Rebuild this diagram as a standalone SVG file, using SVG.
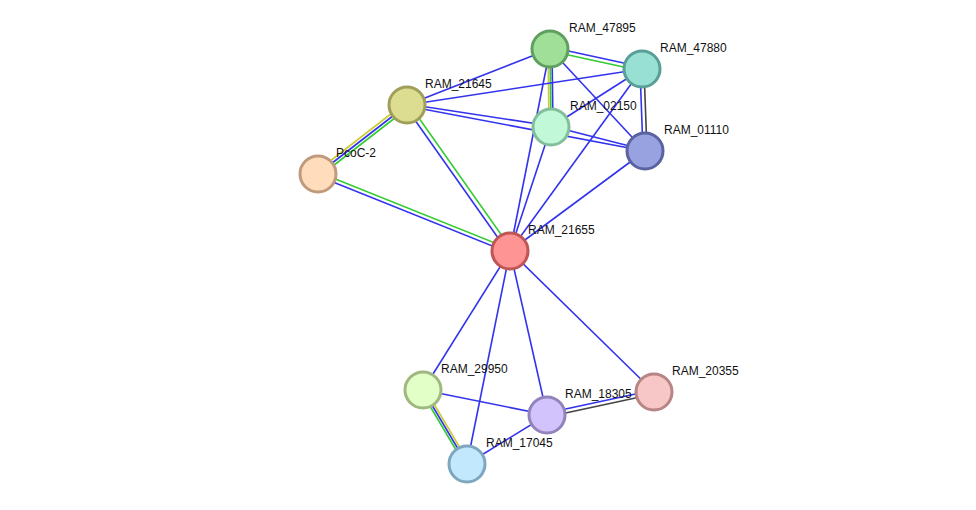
<svg xmlns="http://www.w3.org/2000/svg" width="976" height="510" viewBox="0 0 976 510">
<style>
.e{stroke-width:1.6;fill:none}
.b{stroke:#3333ee}.g{stroke:#33cc33}.y{stroke:#cccc33}.k{stroke:#444444}
circle{stroke-width:3}
text{font-family:"Liberation Sans",Arial,sans-serif;font-size:12px;fill:#111}
</style>
<rect width="976" height="510" fill="#fff"/>
<g id="connectors" class="e">
<line class="b" x1="550" y1="49" x2="407" y2="105"/>
<line class="b" x1="550" y1="47" x2="642" y2="67"/>
<line class="g" x1="550" y1="51" x2="642" y2="71"/>
<line class="y" x1="548" y1="49" x2="549" y2="127"/>
<line class="g" x1="550" y1="49" x2="551" y2="127"/>
<line class="b" x1="552" y1="49" x2="553" y2="127"/>
<line class="b" x1="550" y1="49" x2="645" y2="151"/>
<line class="b" x1="550" y1="49" x2="510" y2="251"/>
<line class="b" x1="642" y1="69" x2="407" y2="105"/>
<line class="b" x1="642" y1="69" x2="551" y2="127"/>
<line class="b" x1="640" y1="69" x2="643" y2="151"/>
<line class="k" x1="644" y1="69" x2="647" y2="151"/>
<line class="b" x1="642" y1="69" x2="510" y2="251"/>
<line class="b" x1="407" y1="104" x2="551" y2="126"/>
<line class="b" x1="407" y1="106" x2="645" y2="151"/>
<line class="y" x1="405" y1="103" x2="316" y2="172"/>
<line class="b" x1="407" y1="105" x2="318" y2="174"/>
<line class="g" x1="409" y1="107" x2="320" y2="176"/>
<line class="b" x1="405" y1="106" x2="508" y2="252"/>
<line class="g" x1="409" y1="104" x2="512" y2="250"/>
<line class="b" x1="551" y1="126" x2="645" y2="150"/>
<line class="b" x1="551" y1="127" x2="510" y2="251"/>
<line class="b" x1="645" y1="151" x2="510" y2="251"/>
<line class="g" x1="318" y1="172" x2="510" y2="249"/>
<line class="b" x1="318" y1="176" x2="510" y2="253"/>
<line class="b" x1="510" y1="251" x2="423" y2="390"/>
<line class="b" x1="510" y1="251" x2="467" y2="464"/>
<line class="b" x1="510" y1="251" x2="547" y2="415"/>
<line class="b" x1="510" y1="251" x2="654" y2="392"/>
<line class="b" x1="423" y1="390" x2="547" y2="415"/>
<line class="y" x1="425" y1="389" x2="469" y2="463"/>
<line class="b" x1="423" y1="390" x2="467" y2="464"/>
<line class="g" x1="421" y1="391" x2="465" y2="465"/>
<line class="b" x1="467" y1="464" x2="547" y2="415"/>
<line class="b" x1="547" y1="413" x2="654" y2="390"/>
<line class="k" x1="547" y1="417" x2="654" y2="394"/>
</g>
<g id="RAM_47895"><circle cx="550" cy="49" r="18" fill="#9fdf97" stroke="#5f9f5f"/><text x="569" y="32">RAM_47895</text></g>
<g id="RAM_47880"><circle cx="642" cy="69" r="18" fill="#99e0d4" stroke="#5a9f97"/><text x="660" y="52">RAM_47880</text></g>
<g id="RAM_21645"><circle cx="407" cy="105" r="18" fill="#dddd91" stroke="#9f9f5a"/><text x="425" y="88">RAM_21645</text></g>
<g id="RAM_02150"><circle cx="551" cy="127" r="18" fill="#c0f8d8" stroke="#80bf9a"/><text x="570" y="110">RAM_02150</text></g>
<g id="RAM_01110"><circle cx="645" cy="151" r="18" fill="#98a2e0" stroke="#5a62a0"/><text x="664" y="134">RAM_01110</text></g>
<g id="PcoC-2"><circle cx="318" cy="174" r="18" fill="#ffdcbc" stroke="#bf9a7c"/><text x="336" y="157">PcoC-2</text></g>
<g id="RAM_21655"><circle cx="510" cy="251" r="18" fill="#ff9494" stroke="#bf5555"/><text x="528" y="234">RAM_21655</text></g>
<g id="RAM_29950"><circle cx="423" cy="390" r="18" fill="#e2ffc8" stroke="#9fb880"/><text x="441" y="373">RAM_29950</text></g>
<g id="RAM_20355"><circle cx="654" cy="392" r="18" fill="#f7c6c6" stroke="#b88585"/><text x="672" y="375">RAM_20355</text></g>
<g id="RAM_18305"><circle cx="547" cy="415" r="18" fill="#d3c3fc" stroke="#9383bd"/><text x="565" y="398">RAM_18305</text></g>
<g id="RAM_17045"><circle cx="467" cy="464" r="18" fill="#c2e8fe" stroke="#80a6bf"/><text x="486" y="447">RAM_17045</text></g>
</svg>
